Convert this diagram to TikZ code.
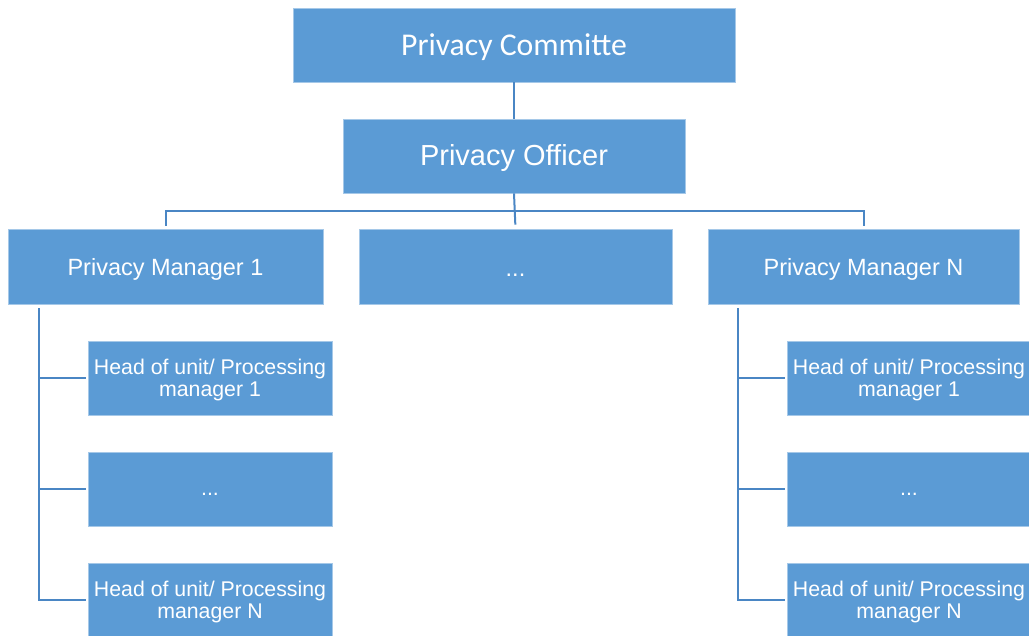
\documentclass[tikz,border=0pt]{standalone}
\usepackage{fontspec}
\setmainfont{Liberation Sans}
\newfontfamily\titlefont{Carlito}
\usepackage{tikz}
\usetikzlibrary{positioning,calc}

\definecolor{boxblue}{HTML}{5B9BD5}
\definecolor{lineblue}{HTML}{4A86C4}

\tikzset{
  orgbox/.style={rectangle,fill=boxblue,draw=boxblue!55!white,line width=0.6pt,
    text=white,inner sep=0pt,align=center},
  topbox/.style={orgbox,font=\fontsize{29}{35}\selectfont,minimum height=74pt,
    text height=26pt,text depth=6pt},
  mgrbox/.style={orgbox,font=\fontsize{23.5}{28}\selectfont,minimum height=75pt,
    text height=23pt,text depth=5pt},
  unitbox/.style={orgbox,font=\fontsize{21.3}{22}\selectfont,minimum width=244pt,minimum height=74pt,
    text height=41pt,text depth=4pt},
  gapunit/.style={text height=17pt,text depth=5pt},
  conn/.style={draw=lineblue,line width=2pt}
}

\begin{document}
\begin{tikzpicture}[x=1pt,y=-1pt]
  \useasboundingbox (0,0) rectangle (1029,636);

  \node[topbox,minimum width=442pt,font=\titlefont\fontsize{31.7}{36}\selectfont,
    text height=28pt,text depth=6pt] (com) at (514,45) {Privacy Committe};
  \node[topbox,minimum width=342pt] (off) at (514,156) {Privacy Officer};

  \node[mgrbox,minimum width=315pt] (pm1) at (165.5,266.5) {Privacy Manager 1};
  \node[mgrbox,minimum width=313pt,text height=25pt] (pmd) at (515.5,266.5) {...};
  \node[mgrbox,minimum width=311pt] (pmn) at (863.5,266.5) {Privacy Manager N};

  % units under manager 1
  \node[unitbox] (u1a) at (210,378) {Head of unit/ Processing\\manager 1};
  \node[unitbox,gapunit] (u1b) at (210,489) {...};
  \node[unitbox] (u1c) at (210,600) {Head of unit/ Processing\\manager N};
  % units under manager N
  \node[unitbox] (una) at (909,378) {Head of unit/ Processing\\manager 1};
  \node[unitbox,gapunit] (unb) at (909,489) {...};
  \node[unitbox] (unc) at (909,600) {Head of unit/ Processing\\manager N};

  \coordinate (bus) at (514,211);
  \coordinate (t1) at ([xshift=31pt,yshift=-4pt]pm1.south west);
  \coordinate (tn) at ([xshift=30pt,yshift=-4pt]pmn.south west);

  \draw[conn] (com.south) -- (off.north);
  \draw[conn,shorten >=4pt] (off.south) -- (pmd.north);
  \draw[conn,shorten <=3pt,shorten >=3pt] (pm1.north) |- (bus) -| (pmn.north);

  \draw[conn,shorten >=2pt] (t1) |- (u1c.west);
  \draw[conn,shorten >=2pt] (t1 |- u1a.west) -- (u1a.west);
  \draw[conn,shorten >=2pt] (t1 |- u1b.west) -- (u1b.west);

  \draw[conn,shorten >=2pt] (tn) |- (unc.west);
  \draw[conn,shorten >=2pt] (tn |- una.west) -- (una.west);
  \draw[conn,shorten >=2pt] (tn |- unb.west) -- (unb.west);
\end{tikzpicture}
\end{document}
